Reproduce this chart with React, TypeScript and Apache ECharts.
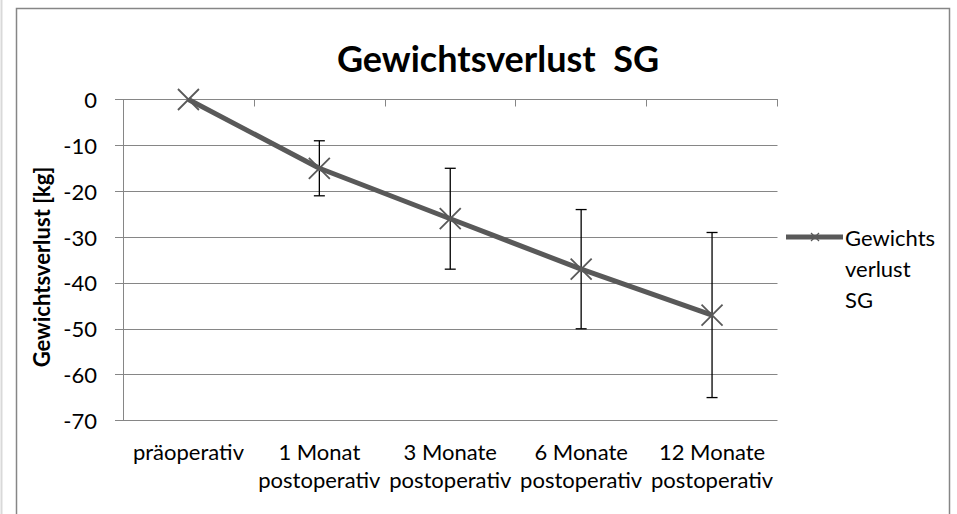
import React, { useEffect, useRef } from "react";
import * as echarts from "echarts";

const categories = [
  "präoperativ",
  "1 Monat\npostoperativ",
  "3 Monate\npostoperativ",
  "6 Monate\npostoperativ",
  "12 Monate\npostoperativ",
];
const weightLoss = [0, -15, -26, -37, -47];
const errorLow = [0, -21, -37, -50, -65];
const errorHigh = [0, -9, -15, -24, -29];
const yTicks = { min: -70, max: 0, interval: 10 };
const seriesName = "Gewichtsverlust SG";
const titleText = "Gewichtsverlust  SG";
const yAxisName = "Gewichtsverlust [kg]";
const legendLines = "Gewichts\nverlust\nSG";

const FONT = "Lato, 'Open Sans', sans-serif";
const GRID = "#868686";
const LINE = "#595959";

export default function App() {
  const ref = useRef<HTMLDivElement>(null);
  useEffect(() => {
    if (!ref.current) return;
    const chart = echarts.init(ref.current, undefined, { renderer: "svg" });
    const errData = categories.map((_, i) => [i, errorLow[i], errorHigh[i]]);
    chart.setOption({
      animation: false,
      backgroundColor: "#fff",
      title: {
        text: titleText,
        left: 493,
        top: 35,
        textAlign: "center",
        textStyle: { fontFamily: FONT, fontSize: 36, fontWeight: "bold", color: "#000" },
      },
      grid: { left: 123, right: 179.5, top: 99.5, bottom: 93.5, containLabel: false },
      xAxis: [
        {
          type: "category",
          data: categories,
          position: "bottom",
          boundaryGap: true,
          axisLine: { show: false },
          axisTick: { show: false },
          axisLabel: {
            fontFamily: FONT,
            fontSize: 22,
            lineHeight: 28,
            color: "#000",
            margin: 17,
            interval: 0,
          },
        },
        {
          type: "category",
          data: categories,
          position: "top",
          boundaryGap: true,
          axisLine: { show: true, lineStyle: { color: GRID, width: 1 } },
          axisTick: { show: true, inside: true, length: 7, lineStyle: { color: GRID } },
          axisLabel: { show: false },
        },
      ],
      yAxis: {
        type: "value",
        min: yTicks.min,
        max: yTicks.max,
        interval: yTicks.interval,
        name: yAxisName,
        nameLocation: "middle",
        nameGap: 71,
        nameRotate: 90,
        nameTextStyle: {
          fontFamily: FONT,
          fontSize: 22,
          fontWeight: "bold",
          color: "#000",
          padding: [0, 14, 0, 0],
        },
        axisLine: { show: true, lineStyle: { color: GRID, width: 1 } },
        axisTick: { show: true, inside: false, length: 8, lineStyle: { color: GRID } },
        axisLabel: { fontFamily: FONT, fontSize: 22, color: "#000", margin: 26 },
        splitLine: { show: true, lineStyle: { color: GRID, width: 1 } },
      },
      series: [
        {
          type: "custom",
          name: "err",
          data: errData,
          encode: { x: 0, y: [1, 2] },
          z: 3,
          renderItem: (_params: any, api: any) => {
            const x = api.value(0);
            const lo = api.value(1);
            const hi = api.value(2);
            if (lo === hi) return { type: "group", children: [] };
            const pLo = api.coord([x, lo]);
            const pHi = api.coord([x, hi]);
            const w = 5.5;
            const st = { stroke: "#000", lineWidth: 1.3 };
            return {
              type: "group",
              children: [
                { type: "line", shape: { x1: pLo[0], y1: pLo[1], x2: pHi[0], y2: pHi[1] }, style: st },
                { type: "line", shape: { x1: pLo[0] - w, y1: pLo[1], x2: pLo[0] + w, y2: pLo[1] }, style: st },
                { type: "line", shape: { x1: pHi[0] - w, y1: pHi[1], x2: pHi[0] + w, y2: pHi[1] }, style: st },
              ],
            };
          },
        },
        {
          type: "line",
          name: seriesName,
          data: weightLoss,
          z: 4,
          lineStyle: { color: LINE, width: 5 },
          symbol: "path://M0 0L20 20M20 0L0 20",
          symbolSize: 21,
          itemStyle: { color: "none", borderColor: LINE, borderWidth: 1.8 },
        },
      ],
      graphic: [
        {
          type: "rect",
          shape: { x: 16.5, y: 8.5, width: 933, height: 520 },
          style: { fill: "none", stroke: GRID, lineWidth: 1.5 },
          silent: true,
        },
        {
          type: "line",
          shape: { x1: 1.5, y1: 0, x2: 1.5, y2: 514 },
          style: { stroke: "#d9d9d9", lineWidth: 2 },
          silent: true,
        },
        {
          type: "line",
          shape: { x1: 786, y1: 237, x2: 843, y2: 237 },
          style: { stroke: LINE, lineWidth: 5 },
        },
        {
          type: "line",
          shape: { x1: 811, y1: 233, x2: 819, y2: 241 },
          style: { stroke: LINE, lineWidth: 1.2 },
        },
        {
          type: "line",
          shape: { x1: 819, y1: 233, x2: 811, y2: 241 },
          style: { stroke: LINE, lineWidth: 1.2 },
        },
        {
          type: "text",
          x: 845,
          y: 222,
          style: {
            text: legendLines,
            fontFamily: FONT,
            fontSize: 22,
            lineHeight: 31,
            fill: "#000",
            textVerticalAlign: "top",
          },
        },
      ],
    });
    return () => chart.dispose();
  }, []);
  return (
    <div
      ref={ref}
      style={{ position: "fixed", left: 0, top: 0, width: 957, height: 514, background: "#fff" }}
    />
  );
}
